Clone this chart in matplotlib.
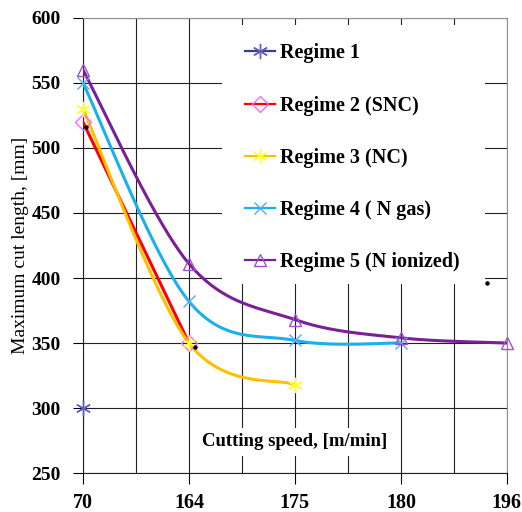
import numpy as np
import matplotlib
matplotlib.use("Agg")
import matplotlib.pyplot as plt
from matplotlib.patches import Rectangle

plt.rcParams["font.family"] = "Liberation Serif"
plt.rcParams["font.weight"] = "bold"

# data
speeds = ["70", "164", "175", "180", "196"]
regime1 = [300]
regime2 = [520, 350]
regime3 = [530, 350, 318]
regime4 = [550, 382, 352, 350]
regime5 = [560, 411, 368, 354, 350]
labels = ["Regime 1", "Regime 2 (SNC)", "Regime 3 (NC)", "Regime 4 ( N gas)",
          "Regime 5 (N ionized)"]
stray_x = [0.03, 1.06, 3.81]
stray_y = [516, 347, 396]


def smooth(y, n=40):
    # excel-like smoothed line (catmull-rom as bezier)
    x = np.arange(len(y), dtype=float)
    y = np.asarray(y, dtype=float)
    if len(y) < 3:
        return x, y
    P = np.column_stack([x, y])
    out = [P[:1]]
    t = np.linspace(0, 1, n)[1:, None]
    for i in range(len(P) - 1):
        p0 = P[i - 1] if i > 0 else P[i]
        p3 = P[i + 2] if i + 2 < len(P) else P[i + 1]
        c1 = P[i] + (P[i + 1] - p0) / 6
        c2 = P[i + 1] - (p3 - P[i]) / 6
        seg = ((1 - t) ** 3 * P[i] + 3 * (1 - t) ** 2 * t * c1
               + 3 * (1 - t) * t ** 2 * c2 + t ** 3 * P[i + 1])
        out.append(seg)
    out = np.vstack(out)
    return out[:, 0], out[:, 1]


fig = plt.figure(figsize=(5.22, 5.12), dpi=100)
ax = fig.add_axes([0.159, 0.076, 0.812, 0.889])

asterisk = (6, 2, 0)
series = [
    (regime1, "#3a3a9a", "#6060c8", asterisk, 11),
    (regime2, "#ff0000", "#ff66ff", "D", 8),
    (regime3, "#ffc000", "#ffff33", asterisk, 11),
    (regime4, "#1ab0ec", "#55aaf0", "x", 9),
    (regime5, "#7a1f96", "#a050c8", "^", 9),
]
handles = []
for (vals, lc, mc, mk, ms), lab in zip(series, labels):
    sx, sy = smooth(vals)
    ax.plot(sx, sy, color=lc, lw=2.2, zorder=3, solid_capstyle="round")
    ax.plot(range(len(vals)), vals, ls="none", marker=mk, ms=ms,
            mec=mc, mfc="none", mew=1.0, zorder=4, clip_on=False)
    h, = ax.plot([], [], color=lc, lw=1.6, marker=mk, ms=ms, mec=mc,
                 mfc="none", mew=1.0)
    handles.append(h)

ax.plot(stray_x, stray_y, ls="none", marker="o", ms=2.2, color="k", zorder=5)

ax.set_xlim(0, 4)
ax.set_ylim(250, 600)
ax.set_xticks(range(5))
ax.set_xticks(np.arange(0.5, 4, 1), minor=True)
ax.set_xticklabels(speeds, fontsize=14.5)
ax.set_yticks(range(250, 601, 50))
ax.tick_params(axis="y", labelsize=14, length=7, width=0.8, direction="out",
               pad=9)
ax.tick_params(axis="x", which="major", length=8, width=0.8, pad=6)
ax.tick_params(axis="x", which="minor", length=0)
ax.set_axisbelow(True)
ax.grid(True, which="both", axis="x", color="#222222", lw=0.8)
ax.grid(True, which="major", axis="y", color="#222222", lw=0.8)
for s in ["top", "right"]:
    ax.spines[s].set_color("#909090")
for s in ["left", "bottom"]:
    ax.spines[s].set_color("#222222")

# white panel behind the legend
ax.add_patch(Rectangle((0.328, 0.415), 0.62, 0.57, transform=ax.transAxes,
                       facecolor="white", edgecolor="none", zorder=1))

ax.legend(handles, labels, loc="upper left", bbox_to_anchor=(0.382, 0.944),
          frameon=False, fontsize=14.5, handlelength=1.5, handletextpad=0.25,
          labelspacing=1.6, borderpad=0, borderaxespad=0)

ax.text(2, 274, "Cutting speed, [m/min]", ha="center", va="center",
        fontsize=13.5, zorder=2,
        bbox=dict(facecolor="white", edgecolor="none", pad=4))
ax.set_ylabel("Maximum cut length, [mm]", fontsize=14, labelpad=2)

fig.savefig("out.png", dpi=100)
